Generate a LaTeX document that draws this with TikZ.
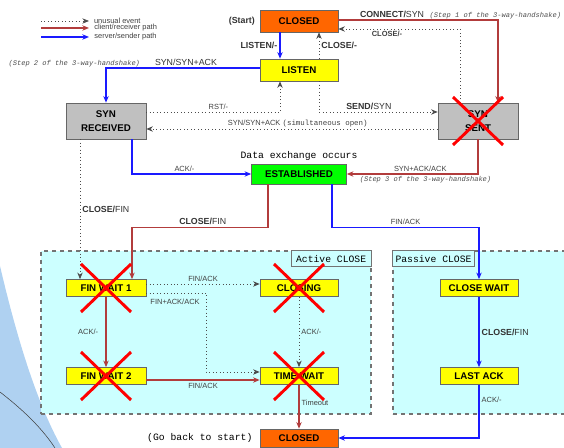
\documentclass[tikz,border=0pt]{standalone}
\usepackage{fontspec}
\setmainfont{Liberation Sans}
\setmonofont{Liberation Mono}
\usepackage{tikz}
\usetikzlibrary{arrows.meta, positioning, calc}
\definecolor{stateClosed}{HTML}{FF6600}
\definecolor{stateYellow}{HTML}{FFFF00}
\definecolor{stateGreen}{HTML}{00FF00}
\definecolor{stateGray}{HTML}{C0C0C0}
\definecolor{closeArea}{HTML}{CCFFFF}
\definecolor{clientRed}{HTML}{B23C3C}
\definecolor{serverBlue}{HTML}{1A1AFF}
\definecolor{crossRed}{HTML}{FF0000}
\definecolor{swooshBlue}{HTML}{AFD1F1}
\newcommand{\statefont}{\fontsize{7.3}{8}\selectfont\bfseries}
\newcommand{\lblfont}{\fontsize{6.6}{7}\selectfont}
\newcommand{\smlfont}{\fontsize{5.6}{6}\selectfont}
\newcommand{\stepfont}{\fontsize{5.3}{6}\selectfont\ttfamily\itshape}
\newcommand{\codefont}{\fontsize{7.3}{8}\selectfont\ttfamily}
\newcommand{\strikestate}[1]{%
  \draw[cross] ($(#1.center)+(-25,-24)$) -- ($(#1.center)+(25,24)$);
  \draw[cross] ($(#1.center)+(25,-24)$) -- ($(#1.center)+(-25,24)$);}

\begin{document}
\begin{tikzpicture}[
    x=0.75pt, y=-0.75pt,
    node distance=2pt,
    state/.style={draw=black!60, fill=stateYellow, minimum width=58.5pt,
                  minimum height=12.75pt, inner sep=0pt, font=\statefont},
    srv/.style={-{Stealth[length=5pt,width=4pt]}, serverBlue, line width=1.1pt},
    cli/.style={-{Stealth[length=5pt,width=4pt]}, clientRed, line width=0.9pt},
    unusual/.style={-{Stealth[length=5pt,width=4pt]}, black!70, dotted, line width=0.6pt},
    cross/.style={crossRed, line width=2.2pt},
    lbl/.style={font=\lblfont, text=black!80, inner sep=1.5pt},
    sml/.style={font=\smlfont, text=black!75, inner sep=1.5pt},
    note/.style={font=\stepfont, text=black!70, inner sep=1pt},
    area/.style={draw=black!55, dashed, fill=closeArea, line width=0.8pt},
    areatag/.style={draw=black!55, fill=closeArea, font=\codefont,
                    inner sep=2pt, minimum height=12pt, line width=0.6pt},
]
\useasboundingbox (0,0) rectangle (564,448);

% background swoosh
\shade[top color=swooshBlue, middle color=white, bottom color=swooshBlue]
    (0,266) .. controls (15,330) and (35,400) .. (62,448) -- (0,448) -- cycle;
\draw[black!75, line width=0.4pt] (0,392) .. controls (18,406) and (40,425) .. (55,448);

% closing areas
\node[area, minimum width=247.5pt, minimum height=122.25pt] (activearea) at (206,332.5) {};
\node[area, minimum width=129.75pt, minimum height=122.25pt] (passivearea) at (479.5,332.5) {};
\node[areatag, minimum width=60pt, anchor=north east] (activetag) at (activearea.north east) {Active CLOSE};
\node[areatag, anchor=north west] (passivetag) at (passivearea.north west) {Passive CLOSE};

% legend
\coordinate (lgA) at (41,21);  \coordinate (lgAe) at (89,21);
\coordinate (lgB) at (41,28);  \coordinate (lgBe) at (89,28);
\coordinate (lgC) at (41,37);  \coordinate (lgCe) at (89,37);
\draw[unusual] (lgA) -- (lgAe) node[sml, right=2pt] {unusual event};
\draw[cli] (lgB) -- (lgBe) node[sml, right=2pt] {client/receiver path};
\draw[srv] (lgC) -- (lgCe) node[sml, right=2pt] {server/sender path};

% states
\node[state, fill=stateClosed, minimum height=16.5pt] (closed) at (299,21) {CLOSED};
\node[lbl, font=\lblfont\bfseries, left=of closed] (start) {(Start)};
\node[state, minimum height=16.5pt] (listen) at (299,70) {LISTEN};
\node[state, fill=stateGray, minimum width=60pt, minimum height=27pt, align=center]
    (synrcvd) at (106,121) {SYN\\[2pt]RECEIVED};
\node[state, fill=stateGray, minimum width=60pt, minimum height=27pt, align=center]
    (synsent) at (478,121) {SYN\\[2pt]SENT};
\node[state, fill=stateGreen, minimum width=71.25pt, minimum height=15pt]
    (established) at (299,174) {ESTABLISHED};
\node[font=\codefont, above=-1pt of established] (dataxchg) {Data exchange occurs};
\node[state, minimum width=60pt] (finwaitone) at (106,288) {FIN WAIT 1};
\node[state, minimum width=60pt] (finwaittwo) at (106,376) {FIN WAIT 2};
\node[state] (closing) at (299,288) {CLOSING};
\node[state] (timewait) at (299,376) {TIME WAIT};
\node[state] (closewait) at (479,288) {CLOSE WAIT};
\node[state] (lastack) at (479,376) {LAST ACK};
\node[state, fill=stateClosed, minimum height=13.5pt] (closedend) at (299,438) {CLOSED};
\node[font=\codefont, left=of closedend] (goback) {(Go back to start)};

% opening
\draw[srv] ($(closed.south)+(-19,0)$) -- ($(listen.north)+(-19,0)$)
    node[midway, left, lbl, font=\lblfont\bfseries] {LISTEN/-};
\draw[unusual] ($(listen.north)+(20,0)$) -- ($(closed.south)+(20,0)$)
    node[midway, right, lbl, font=\lblfont\bfseries] {CLOSE/-};
\draw[cli] ($(closed.east)+(0,-1)$) -| ($(synsent.north)+(20,0)$)
    node[pos=0.06, anchor=south west, lbl] (connect) {\textbf{CONNECT/}SYN};
\node[note, right=1pt of connect.base east, anchor=base west] {(Step 1 of the 3-way-handshake)};
\draw[unusual] ($(synsent.north)+(-18,0)$) |- ($(closed.east)+(0,8)$)
    node[pos=0.8, below, sml, font=\smlfont\bfseries] {CLOSE/-};
\draw[srv] ($(listen.west)+(0,-2)$) -| (synrcvd.north)
    node[pos=0.24, above, lbl] (synack) {SYN/SYN+ACK};
\node[note, left=8pt of synack.base west, anchor=base east] {(Step 2 of the 3-way-handshake)};
\draw[unusual] ($(synrcvd.east)+(0,-9)$) -| ($(listen.south)+(-19,0)$)
    node[pos=0.27, above, sml] {RST/-};
\draw[unusual] ($(listen.south)+(20,0)$) |- ($(synsent.west)+(0,-9)$)
    node[pos=0.71, above, lbl] {\textbf{SEND/}SYN};
\draw[unusual] ($(synsent.west)+(0,8)$) -- ($(synrcvd.east)+(0,8)$)
    node[pos=0.48, above, sml] {SYN/SYN+ACK \texttt{(simultaneous open)}};
\draw[srv] ($(synrcvd.south)+(26,0)$) |- (established.west)
    node[pos=0.72, above, sml] {ACK/-};
\draw[cli] (synsent.south) |- (established.east)
    node[pos=0.72, above, sml] {SYN+ACK/ACK}
    node[pos=0.7, below, note] {(Step 3 of the 3-way-handshake)};

% closing
\draw[unusual] ($(synrcvd.south)+(-26,0)$) -- ($(finwaitone.north)+(-26,0)$)
    node[midway, right, lbl] {\textbf{CLOSE/}FIN};
\draw[cli] ($(established.south)+(-31,0)$) -- ++(0,43) -| ($(finwaitone.north)+(26,0)$)
    node[pos=0.24, above, lbl] {\textbf{CLOSE/}FIN};
\draw[srv] ($(established.south)+(33,0)$) -- ++(0,43) -| (closewait.north)
    node[pos=0.25, above, sml] {FIN/ACK};
\draw[unusual] ($(finwaitone.east)+(0,-4)$) -- ($(closing.west)+(0,-4)$)
    node[midway, above, sml] {FIN/ACK};
\draw[unusual] ($(finwaitone.east)+(0,5)$) -- ++(60,0)
    node[pos=0.48, below=3pt, sml] {FIN+ACK/ACK} |- ($(timewait.west)+(0,-4)$);
\draw[cli] (finwaitone) -- (finwaittwo) node[midway, left=4pt, sml] {ACK/-};
\draw[cli] ($(finwaittwo.east)+(0,4)$) -- ($(timewait.west)+(0,4)$)
    node[midway, below, sml] {FIN/ACK};
\draw[unusual] (closing) -- (timewait) node[midway, right, sml] {ACK/-};
\draw[cli] (timewait) -- (closedend) node[pos=0.4, right, sml] {Timeout};
\draw[srv] (closewait) -- (lastack) node[midway, right, lbl] {\textbf{CLOSE/}FIN};
\draw[srv] (lastack.south) |- (closedend.east) node[pos=0.14, right, sml] {ACK/-};

% states left out
\strikestate{synsent}
\strikestate{finwaitone}
\strikestate{finwaittwo}
\strikestate{closing}
\strikestate{timewait}
\end{tikzpicture}
\end{document}
